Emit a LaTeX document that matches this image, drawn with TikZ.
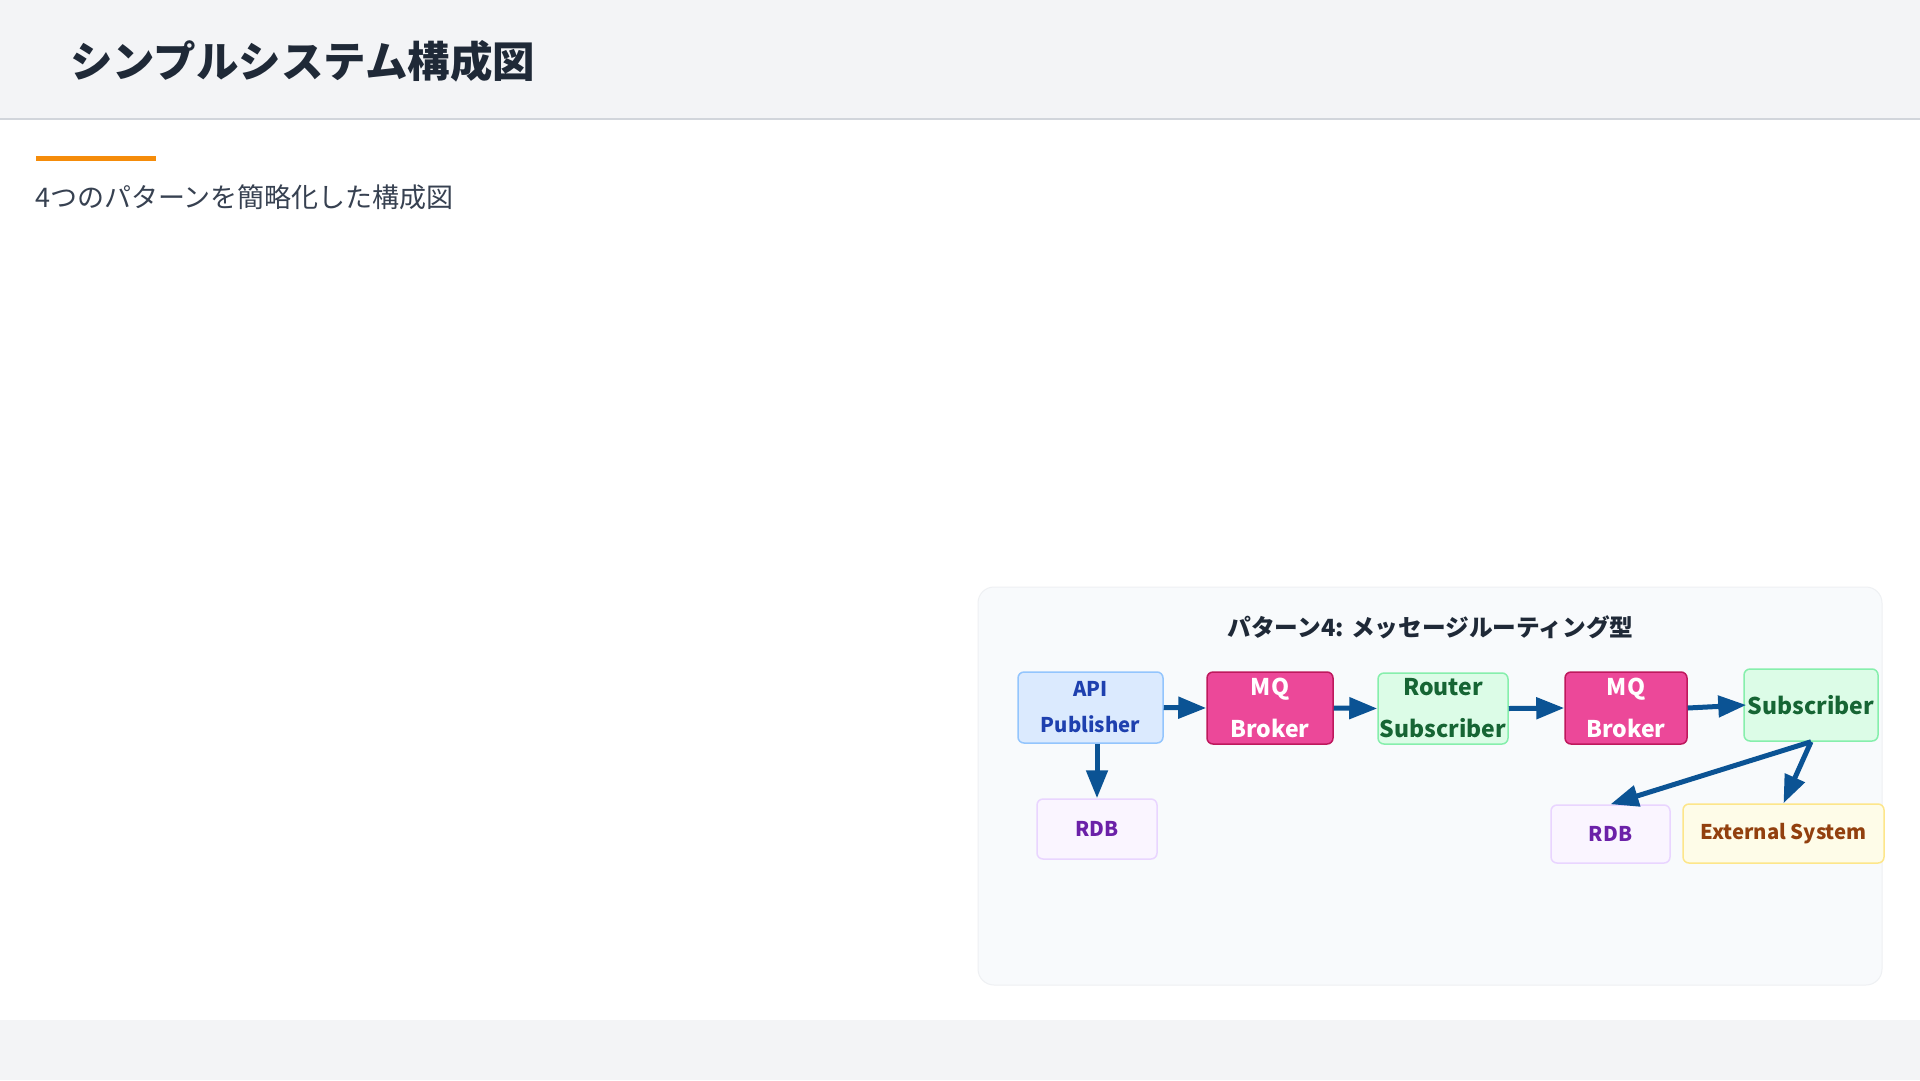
\documentclass[tikz,border=0pt]{standalone}
\usepackage{fontspec}
\setmainfont{Noto Sans CJK JP}
\usetikzlibrary{arrows.meta}
\definecolor{headbg}{HTML}{F3F4F6}
\definecolor{headline}{HTML}{D1D5DB}
\definecolor{titlecol}{HTML}{1F2937}
\definecolor{subcol}{HTML}{374151}
\definecolor{orangebar}{RGB}{245,140,10}
\definecolor{panelbg}{HTML}{F8FAFC}
\definecolor{panelline}{HTML}{EEF0F3}
\definecolor{arrowcol}{RGB}{11,83,148}
\definecolor{apifill}{HTML}{DBEAFE}
\definecolor{apidraw}{HTML}{93C5FD}
\definecolor{apitext}{HTML}{1E40AF}
\definecolor{mqfill}{HTML}{EC4899}
\definecolor{mqdraw}{HTML}{BE185D}
\definecolor{grfill}{HTML}{DCFCE7}
\definecolor{grdraw}{HTML}{86EFAC}
\definecolor{grtext}{HTML}{166534}
\definecolor{dbfill}{HTML}{FAF5FF}
\definecolor{dbdraw}{HTML}{E9D5FF}
\definecolor{dbtext}{HTML}{6B21A8}
\definecolor{exfill}{HTML}{FEFCE8}
\definecolor{exdraw}{HTML}{FDE68A}
\definecolor{extext}{HTML}{92400E}
\tikzset{
  box/.style={rounded corners=6pt, line width=1.5pt, inner sep=0pt, align=center, font=\bfseries},
  smallfont/.style={font=\fontsize{20.3}{36}\selectfont\bfseries},
  bigfont/.style={font=\fontsize{23}{42}\selectfont\bfseries},
  apibox/.style={box, smallfont, fill=apifill, draw=apidraw, text=apitext},
  mqbox/.style={box, bigfont, fill=mqfill, draw=mqdraw, text=white},
  grbox/.style={box, bigfont, fill=grfill, draw=grdraw, text=grtext},
  dbbox/.style={box, smallfont, fill=dbfill, draw=dbdraw, text=dbtext},
  exbox/.style={box, smallfont, fill=exfill, draw=exdraw, text=extext},
  flow/.style={draw=arrowcol, line width=5pt, -{Triangle[length=28pt,width=21pt]}, arrowcol},
}
\begin{document}
\begin{tikzpicture}[x=1pt,y=-1pt]
\useasboundingbox (0,0) rectangle (1920,1080);
\fill[white] (0,0) rectangle (1920,1080);
% header
\fill[headbg] (0,0) rectangle (1920,119);
\draw[headline, line width=1.5pt] (0,119) -- (1920,119);
\node[anchor=west, inner sep=0pt, text=titlecol, font=\fontsize{42.5}{48}\selectfont\bfseries] (title) at (70,61) {シンプルシステム構成図};
% orange bar and subtitle
\fill[orangebar] (36,156) rectangle (156,161);
\node[anchor=west, inner sep=0pt, text=subcol, font=\fontsize{27}{31}\selectfont] (subtitle) at (35,197) {4つのパターンを簡略化した構成図};
% footer
\fill[headbg] (0,1020) rectangle (1920,1080);
% panel
\filldraw[fill=panelbg, draw=panelline, line width=1pt, rounded corners=16pt] (978,587) rectangle (1882,985);
\node[inner sep=0pt, text=titlecol, font=\fontsize{23.7}{28}\selectfont\bfseries] (ptitle) at (1430.5,627) {パターン4: メッセージルーティング型};
% boxes
\node[apibox, minimum width=145pt, minimum height=71pt] (api) at (1090.5,707.5) {API\\Publisher};
\node[mqbox, minimum width=126pt, minimum height=72pt] (mq1) at (1270,708) {MQ\\Broker};
\node[grbox, minimum width=130pt, minimum height=71pt] (router) at (1443,708.5) {Router\\Subscriber};
\node[mqbox, minimum width=122pt, minimum height=72pt] (mq2) at (1626,708) {MQ\\Broker};
\node[grbox, minimum width=134pt, minimum height=72pt] (sub) at (1811,705) {Subscriber};
\node[dbbox, minimum width=120pt, minimum height=60pt] (rdb1) at (1097,829) {RDB};
\node[dbbox, minimum width=119pt, minimum height=58pt] (rdb2) at (1610.5,834) {RDB};
\node[exbox, minimum width=201pt, minimum height=59pt] (ext) at (1783.5,833.5) {External System};
% arrows
\draw[flow] (api.east) -- (mq1.west);
\draw[flow] (mq1.east) -- (router.west);
\draw[flow] (router.east) -- (mq2.west);
\draw[flow] (mq2.east) -- ([xshift=3pt]sub.west);
\draw[flow] (rdb1.north |- api.south) -- (rdb1.north);
\draw[flow] (sub.south) -- (rdb2.north);
\draw[flow] (sub.south) -- (ext.north);
\end{tikzpicture}
\end{document}
